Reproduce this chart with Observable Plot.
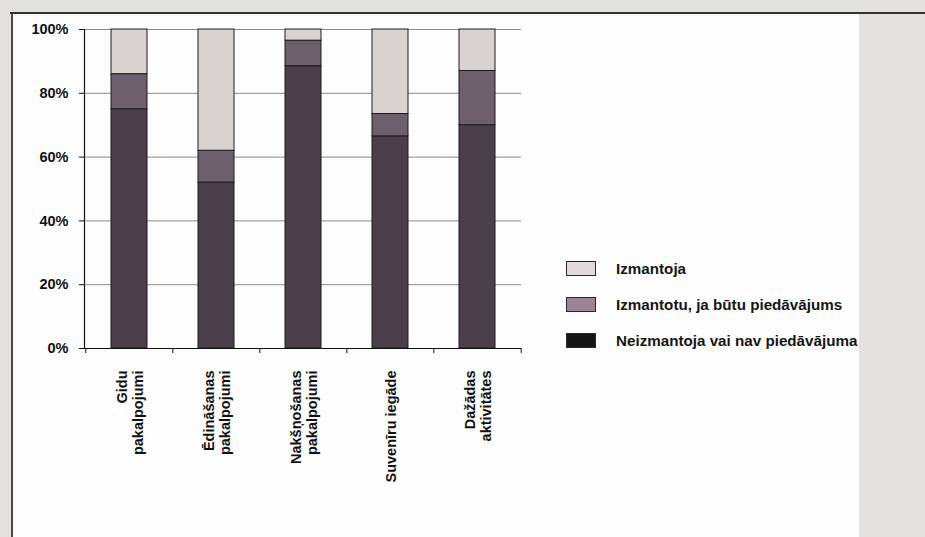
<!DOCTYPE html>
<html>
<head>
<meta charset="utf-8">
<script src="https://cdn.jsdelivr.net/npm/d3@7"></script>
<script src="https://cdn.jsdelivr.net/npm/@observablehq/plot@0.6"></script>
<style>
  html, body { margin: 0; padding: 0; }
  body { width: 925px; height: 537px; position: relative; overflow: hidden; background: #e4e2e0; font-family: "Liberation Sans", Arial, sans-serif; }
  #panel { position: absolute; left: 11px; top: 13px; width: 846px; height: 524px; background: #fdfdfd; border-left: 2px solid #4a4a4a; }
  #topline { position: absolute; left: 10px; top: 12px; width: 915px; height: 2px; background: #333; }
  #chart { position: absolute; left: 0; top: 0; }
  .lg { position: absolute; left: 566px; width: 30px; height: 15px; box-sizing: border-box; border: 1.5px solid #2a2a2a; }
  .lt { position: absolute; left: 616px; font-size: 15.2px; font-weight: bold; color: #151515; line-height: 16px; white-space: nowrap; }
</style>
</head>
<body>
<div id="panel"></div>
<div id="topline"></div>
<div id="chart"></div>
<div id="legend"></div>
<script>
// ---- data ----
const categories = ["Gidu\npakalpojumi", "Ēdināšanas\npakalpojumi", "Nakšņošanas\npakalpojumi", "Suvenīru iegāde", "Dažādas\naktivitātes"];
const series = ["Neizmantoja vai nav piedāvājuma", "Izmantotu, ja būtu piedāvājums", "Izmantoja"];
const neizmantoja = [75, 52, 88.5, 66.5, 70];
const izmantotu = [11, 10, 8, 7, 17];
const izmantoja = [14, 38, 3.5, 26.5, 13];
const yTicks = [0, 20, 40, 60, 80, 100];
const legendOrder = ["Izmantoja", "Izmantotu, ja būtu piedāvājums", "Neizmantoja vai nav piedāvājuma"];

// ---- style ----
const barColors = ["#4b3f4b", "#6e5f6d", "#dad2d0"];
const legendColors = {"Izmantoja": "#e2dada", "Izmantotu, ja būtu piedāvājums": "#9c8494", "Neizmantoja vai nav piedāvājuma": "#151515"};

const values = [neizmantoja, izmantotu, izmantoja];
const table = [];
series.forEach((s, si) => categories.forEach((c, ci) => table.push({cat: c, series: s, value: values[si][ci]})));

const W = 540, H = 537, ML = 84, MR = 19, MT = 29, MB = 189;
const step = (W - ML - MR) / categories.length;

const chart = Plot.plot({
  width: W, height: H,
  marginLeft: ML, marginRight: MR, marginTop: MT, marginBottom: MB,
  style: {fontFamily: "'Liberation Sans', Arial, sans-serif", fontSize: "14.5px", fontWeight: "bold", color: "#111", background: "transparent"},
  x: {domain: categories, paddingInner: 0.59, paddingOuter: 0.295, label: null},
  y: {domain: [0, 100], label: null},
  color: {domain: series, range: barColors},
  marks: [
    Plot.gridY(yTicks.slice(1), {stroke: "#8c8c8c", strokeOpacity: 1}),
    Plot.barY(table, Plot.stackY({x: "cat", y: "value", fill: "series", z: "series", order: series, stroke: "#1c1c1c", strokeWidth: 1})),
    Plot.ruleY([0], {stroke: "#111", strokeWidth: 1.2}),
    Plot.frame({anchor: "left", stroke: "#111", strokeWidth: 1.2}),
    Plot.axisY({ticks: yTicks, tickFormat: d => d + "%", tickSize: 5, tickPadding: 11, label: null, stroke: "#111"}),
    Plot.axisX({ticks: categories, tickSize: 5, tickFormat: () => "", dx: -step / 2, label: null, stroke: "#111"}),
    Plot.axisX({ticks: categories.slice(-1), tickSize: 5, tickFormat: () => "", dx: step / 2, label: null, stroke: "#111"}),
    Plot.text(categories, {x: d => d, text: d => d, frameAnchor: "bottom", dy: 22, rotate: -90, textAnchor: "end", lineAnchor: "middle", lineHeight: 1.15, fill: "#111"})
  ]
});
document.getElementById("chart").appendChild(chart);

// ---- legend ----
const legend = document.getElementById("legend");
const tops = [261, 297, 333];
legendOrder.forEach((s, i) => {
  const sw = document.createElement("div");
  sw.className = "lg";
  sw.style.top = tops[i] + "px";
  sw.style.background = legendColors[s];
  legend.appendChild(sw);
  const t = document.createElement("div");
  t.className = "lt";
  t.style.top = (tops[i] - 0.5) + "px";
  t.textContent = s;
  legend.appendChild(t);
});
</script>
</body>
</html>
